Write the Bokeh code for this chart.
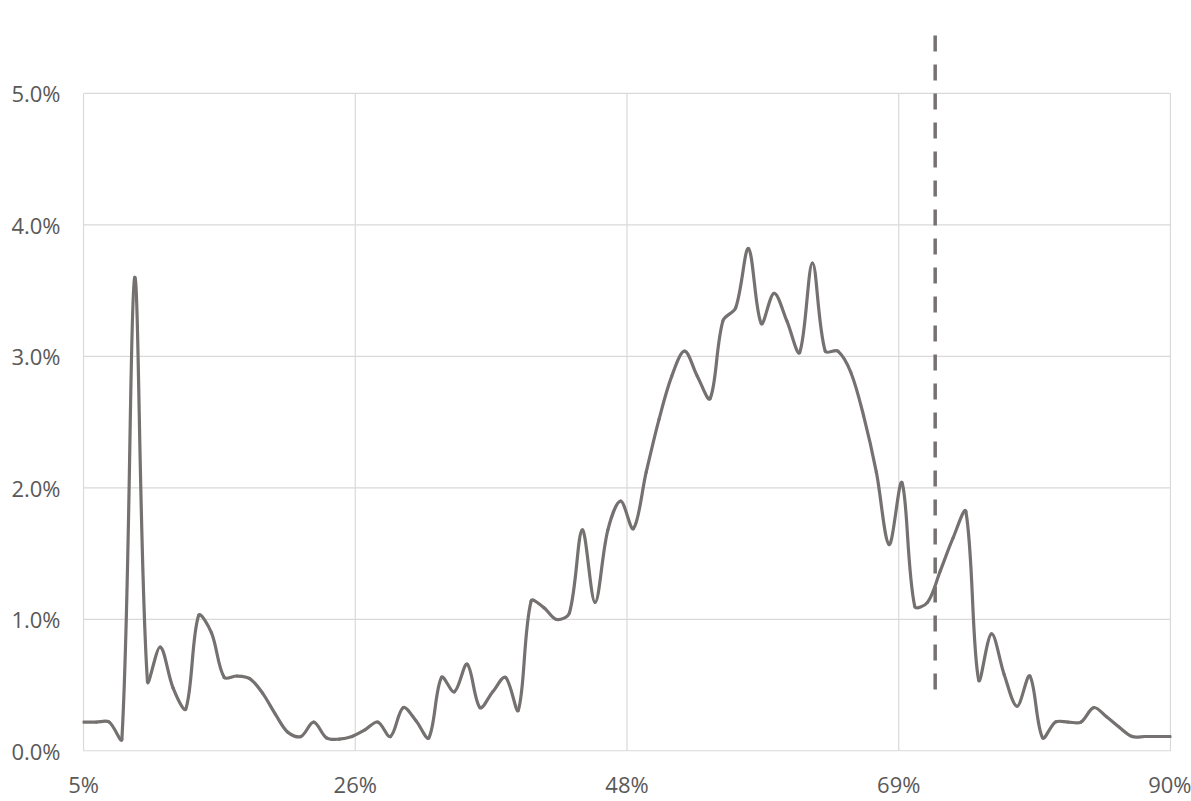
from bokeh.plotting import figure
from bokeh.models import Range1d, FixedTicker
from bokeh.embed import file_html
from bokeh.resources import INLINE

# ---- data ----
pct = [5, 6, 7, 8, 9, 10, 11, 12, 13, 14, 15, 16, 17, 18, 19, 20, 21, 22, 23, 24,
       25, 26, 27, 28, 29, 30, 31, 32, 33, 34, 35, 36, 37, 38, 39, 40, 41, 42, 43, 44,
       45, 46, 47, 48, 49, 50, 51, 52, 53, 54, 55, 56, 57, 58, 59, 60, 61, 62, 63, 64,
       65, 66, 67, 68, 69, 70, 71, 72, 73, 74, 75, 76, 77, 78, 79, 80, 81, 82, 83, 84,
       85, 86, 87, 88, 89, 90]
share = [0.22, 0.22, 0.22, 0.09, 3.60, 0.53, 0.79, 0.48, 0.32, 1.03,
         0.90, 0.56, 0.57, 0.55, 0.44, 0.28, 0.14, 0.11, 0.22, 0.10,
         0.09, 0.11, 0.16, 0.22, 0.11, 0.33, 0.23, 0.10, 0.56, 0.45,
         0.66, 0.33, 0.45, 0.56, 0.31, 1.14, 1.09, 1.00, 1.05, 1.68,
         1.13, 1.68, 1.90, 1.69, 2.12, 2.52, 2.85, 3.04, 2.85, 2.68,
         3.27, 3.37, 3.82, 3.25, 3.48, 3.27, 3.03, 3.71, 3.04, 3.04,
         2.88, 2.55, 2.12, 1.57, 2.04, 1.10, 1.13, 1.37, 1.62, 1.82,
         0.54, 0.89, 0.58, 0.34, 0.57, 0.10, 0.22, 0.22, 0.22, 0.33,
         0.26, 0.18, 0.11, 0.11, 0.11, 0.11]
marker_x = [71.6, 71.6]
marker_y = [5.44, 0.44]

x_ticks = [5, 26.25, 47.5, 68.75, 90]
x_labels = ["5%", "26%", "48%", "69%", "90%"]
y_ticks = [0, 1, 2, 3, 4, 5]
y_labels = ["0.0%", "1.0%", "2.0%", "3.0%", "4.0%", "5.0%"]

LINE = "#767171"
GRID = "#d9d9d9"
TEXT = "#595959"
FONT = "Open Sans"

p = figure(width=1191, height=801, output_backend="svg", toolbar_location=None,
           x_range=Range1d(4.92, 90.08), y_range=Range1d(-0.004, 5.6),
           min_border_left=82, min_border_right=20, min_border_top=14, min_border_bottom=49)
p.outline_line_color = None
p.background_fill_color = "white"
p.xgrid.visible = False
p.ygrid.visible = False

# plot-area box and gridlines
p.segment(x0=x_ticks, y0=[y_ticks[0]] * len(x_ticks), x1=x_ticks, y1=[y_ticks[-1]] * len(x_ticks),
          line_color=GRID, line_width=1.2)
p.segment(x0=[x_ticks[0]] * len(y_ticks), y0=y_ticks, x1=[x_ticks[-1]] * len(y_ticks), y1=y_ticks,
          line_color=GRID, line_width=1.2)

# smoothed line (Excel-like bezier smoothing, computed in pixel proportions)
sx, sy = 12.8, 131.6
n = len(pct)
def pt(i):
    i = min(max(i, 0), n - 1)
    return pct[i], share[i]
def dist(a, b):
    return (((a[0] - b[0]) * sx) ** 2 + ((a[1] - b[1]) * sy) ** 2) ** 0.5
bx0, by0, bx1, by1, cx0, cy0, cx1, cy1 = [], [], [], [], [], [], [], []
for i in range(n - 1):
    A, B, C, D = pt(i - 1), pt(i), pt(i + 1), pt(i + 2)
    dAB, dBC, dCD = dist(A, B), dist(B, C), dist(C, D)
    f0 = dBC / (dAB + dBC) * 2 / 6 if dAB + dBC > 0 else 0
    f1 = dBC / (dBC + dCD) * 2 / 6 if dBC + dCD > 0 else 0
    bx0.append(B[0]); by0.append(B[1]); bx1.append(C[0]); by1.append(C[1])
    cx0.append(B[0] + (C[0] - A[0]) * f0); cy0.append(B[1] + (C[1] - A[1]) * f0)
    cx1.append(C[0] - (D[0] - B[0]) * f1); cy1.append(C[1] - (D[1] - B[1]) * f1)
p.bezier(x0=bx0, y0=by0, x1=bx1, y1=by1, cx0=cx0, cy0=cy0, cx1=cx1, cy1=cy1,
         line_color=LINE, line_width=3.2, line_cap="round")

# dashed marker line
p.line(marker_x, marker_y, line_color=LINE, line_width=3.5, line_dash="16 13")

for ax in (p.xaxis[0], p.yaxis[0]):
    ax.axis_line_color = None
    ax.major_tick_line_color = None
    ax.minor_tick_line_color = None
    ax.major_tick_out = 0
    ax.major_tick_in = 0
    ax.major_label_text_font = FONT
    ax.major_label_text_font_size = "22px"
    ax.major_label_text_color = TEXT

p.xaxis.ticker = FixedTicker(ticks=x_ticks)
p.xaxis.major_label_overrides = dict(zip(x_ticks, x_labels))
p.xaxis.major_label_standoff = 17
p.yaxis.ticker = FixedTicker(ticks=y_ticks)
p.yaxis.major_label_overrides = dict(zip(y_ticks, y_labels))
p.yaxis.major_label_standoff = 22

open("out.html", "w").write(file_html(p, INLINE))
